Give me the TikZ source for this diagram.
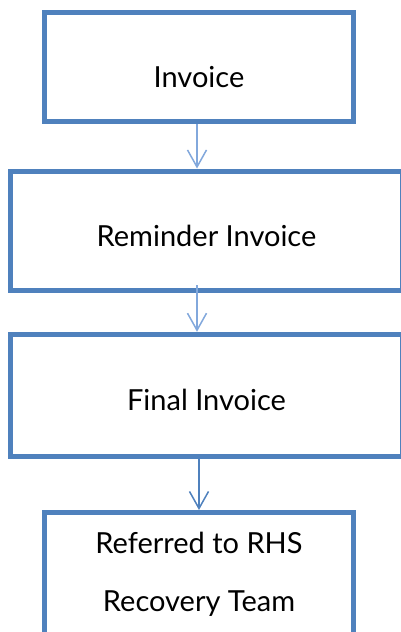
\documentclass[tikz,border=0pt]{standalone}
\usepackage{fontspec}
\setmainfont{Lato}
\usetikzlibrary{arrows.meta}
\definecolor{boxblue}{HTML}{4F81BD}
\definecolor{lightarr}{HTML}{82A8DC}
\tikzset{
  flowbox/.style={draw=boxblue, line width=5pt, rectangle, inner sep=0pt, fill=white},
  lbl/.style={anchor=base, font=\fontsize{29}{35}\selectfont, inner sep=0pt},
  arrlight/.style={draw=lightarr, line width=1.5pt, -{Straight Barb[length=17pt,width=19pt,line width=1.5pt]}},
  arrdark/.style={draw=boxblue, line width=1.5pt, -{Straight Barb[length=17pt,width=19pt,line width=1.5pt]}}
}
\begin{document}
\begin{tikzpicture}[x=1pt,y=-1pt]
\useasboundingbox (0,0) rectangle (401,632);
\clip (0,0) rectangle (401,632);
\fill[white] (0,0) rectangle (401,632);
\node[flowbox, minimum width=309pt, minimum height=109pt] (b1) at (199,67) {};
\node[flowbox, minimum width=392pt, minimum height=119.5pt] (b2) at (206.5,230.75) {};
\node[flowbox, minimum width=392pt, minimum height=122.5pt] (b3) at (206.5,395.5) {};
\node[flowbox, minimum width=309pt, minimum height=140pt] (b4) at (199,582.5) {};
\node[lbl] (t1) at (199,87) {Invoice};
\node[lbl] (t2) at (206.5,246.7) {Reminder Invoice};
\node[lbl] (t3) at (206.5,410.7) {Final Invoice};
\node[lbl] (t4a) at (199,553) {Referred to RHS};
\node[lbl] (t4b) at (199,611) {Recovery Team};
\draw[arrlight] ([xshift=-2pt]b1.south) -- ([xshift=-2pt]b1.south |- b2.north);
\draw[arrlight] ([xshift=-9.5pt,yshift=8pt]b2.south) -- ([xshift=-9.5pt]b2.south |- b3.north);
\draw[arrdark] ([xshift=-7.5pt]b3.south) -- ([xshift=-7.5pt]b3.south |- b4.north);
\end{tikzpicture}
\end{document}
